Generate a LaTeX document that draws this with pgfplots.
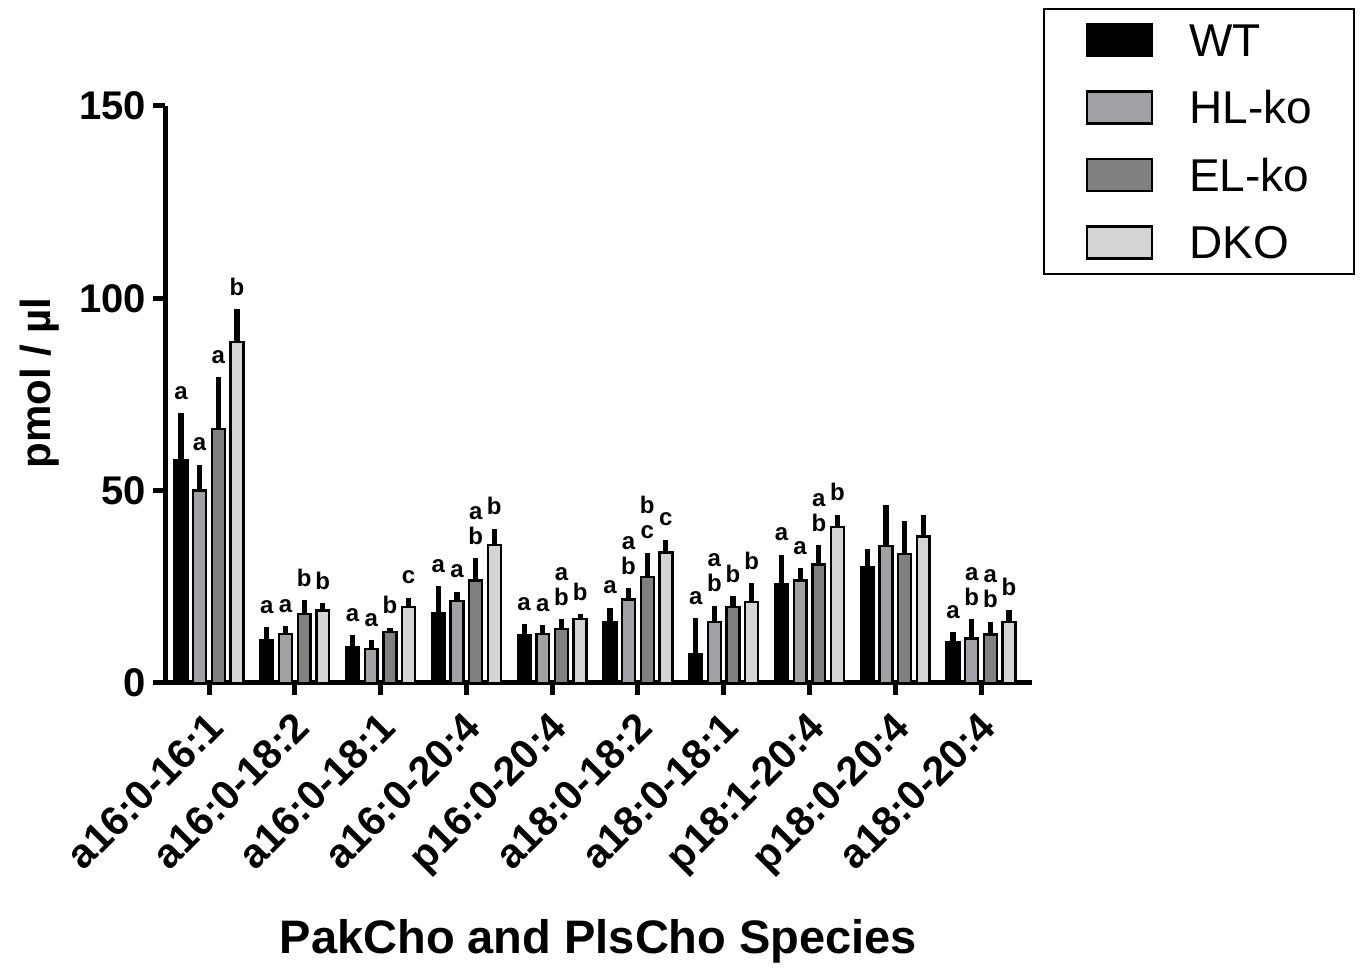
\documentclass[border=0pt]{standalone}
\usepackage{pgfplots}
\pgfplotsset{compat=1.18}
\usepackage{pgfplotstable}
\usepackage{fontspec}
\setmainfont{Liberation Sans}
\definecolor{hlko}{RGB}{160,160,165}
\definecolor{elko}{RGB}{128,128,128}
\definecolor{dko}{RGB}{212,212,212}

\pgfplotstableread{
x y e
0 58.0 12.1
1 11.0 3.5
2 9.2 3.3
3 18.1 7.1
4 12.3 3.0
5 15.9 3.7
6 7.5 9.4
7 25.7 7.7
8 30.2 4.6
9 10.7 2.5
}\wt
\pgfplotstableread{
x y e
0 50.0 6.8
1 12.7 2.1
2 8.8 2.4
3 21.3 2.4
4 12.7 2.3
5 21.7 2.9
6 15.8 4.3
7 26.6 3.3
8 35.6 10.7
9 11.6 5.0
}\hl
\pgfplotstableread{
x y e
0 66.0 13.5
1 17.9 3.6
2 13.2 1.2
3 26.6 5.9
4 14.1 2.5
5 27.6 6.3
6 19.8 2.8
7 30.8 5.1
8 33.5 8.7
9 12.6 3.3
}\el
\pgfplotstableread{
x y e
0 88.7 8.5
1 18.8 1.9
2 19.7 2.5
3 35.9 4.2
4 16.7 1.2
5 33.9 3.4
6 21.1 4.8
7 40.5 3.3
8 38.1 5.7
9 15.9 3.2
}\dk
\pgfplotstableread{
x y l
-0.326 73.7 a
-0.109 60.4 a
0.109 83.1 a
0.326 100.8 b
0.674 18.1 a
0.891 18.4 a
1.109 25.1 b
1.326 24.3 b
1.674 16.1 a
1.891 14.8 a
2.109 18.0 b
2.326 25.8 c
2.674 28.8 a
2.891 27.3 a
3.109 36.1 b
3.109 42.6 a
3.326 43.7 b
3.674 18.9 a
3.891 18.6 a
4.109 20.2 b
4.109 26.7 a
4.326 21.5 b
4.674 23.2 a
4.891 28.2 b
4.891 34.7 a
5.109 37.5 c
5.109 44.0 b
5.326 40.9 c
5.674 20.5 a
5.891 23.7 b
5.891 30.2 a
6.109 26.2 b
6.326 29.5 b
6.674 37.0 a
6.891 33.5 a
7.109 39.5 b
7.109 46.0 a
7.326 47.4 b
8.674 16.8 a
8.891 20.2 b
8.891 26.7 a
9.109 19.5 b
9.109 26.0 a
9.326 22.7 b
}\labs

\pgfplotsset{
  mybar/.style={ybar, bar width=0.15, bar shift=0pt, draw=black, line width=1.2pt, fill=#1,
    legend image code/.code={\draw[fill=#1, draw=black, line width=1.2pt] (0pt,-8pt) rectangle (32.5pt,8pt);},
    error bars/y dir=plus, error bars/y explicit, error bars/error mark=none,
    error bars/error bar style={line width=2.6pt, black, solid}},
}

\begin{document}
\begin{tikzpicture}
\path[use as bounding box] (0,0) rectangle (680pt,484.5pt);
\begin{axis}[
  at={(82.5pt,143pt)}, anchor=south west,
  scale only axis, width=433.5pt, height=288.5pt,
  xmin=-0.513, xmax=9.594, ymin=0, ymax=150,
  axis x line=bottom, axis y line=left,
  axis line style={-, line width=2.5pt, black},
  xtick={0,...,9},
  xticklabels={a16:0-16:1,a16:0-18:2,a16:0-18:1,a16:0-20:4,p16:0-20:4,a18:0-18:2,a18:0-18:1,p18:1-20:4,p18:0-20:4,a18:0-20:4},
  ytick={0,50,100,150},
  minor tick num=0,
  tick align=outside, major tick length=6pt,
  tick style={line width=2.5pt, black},
  /pgf/number format/assume math mode=true,
  tick label style={font=\fontsize{20}{24}\selectfont\bfseries},
  xticklabel style={rotate=45, anchor=north east, inner sep=2pt, yshift=-1.8pt, xshift=-4.3pt, font=\fontsize{20.5}{24}\selectfont\bfseries},
  xlabel={PakCho and PlsCho Species},
  xlabel style={at={(axis description cs:0.5,-0.468)}, anchor=base, font=\fontsize{23.5}{27}\selectfont\bfseries},
  ylabel={pmol / µl},
  ylabel style={at={(axis description cs:-0.145,0.52)}, anchor=center, font=\fontsize{21}{25}\selectfont\bfseries},
  clip=false,
  legend style={at={(1.3725,1.1698)}, anchor=north east, draw=black, line width=1pt,
    font=\fontsize{23}{27}\selectfont, inner xsep=21pt, inner ysep=7pt, row sep=16.5pt,
    nodes={inner sep=0pt, text height=16pt, text depth=0pt},
    /tikz/every odd column/.append style={column sep=18pt}},
  legend cell align=left,
]
\addplot[mybar=black] table[x expr=\thisrow{x}-0.326, y=y, y error=e] {\wt};
\addplot[mybar=hlko] table[x expr=\thisrow{x}-0.109, y=y, y error=e] {\hl};
\addplot[mybar=elko] table[x expr=\thisrow{x}+0.109, y=y, y error=e] {\el};
\addplot[mybar=dko] table[x expr=\thisrow{x}+0.326, y=y, y error=e] {\dk};
\legend{WT,HL-ko,EL-ko,DKO}
\addplot[forget plot, draw=none, mark=none, nodes near coords, point meta=explicit symbolic,
  every node near coord/.style={anchor=base, inner sep=0pt, font=\fontsize{12}{12}\selectfont\bfseries}]
  table[x=x, y=y, meta=l] {\labs};
\end{axis}
\end{tikzpicture}
\end{document}
